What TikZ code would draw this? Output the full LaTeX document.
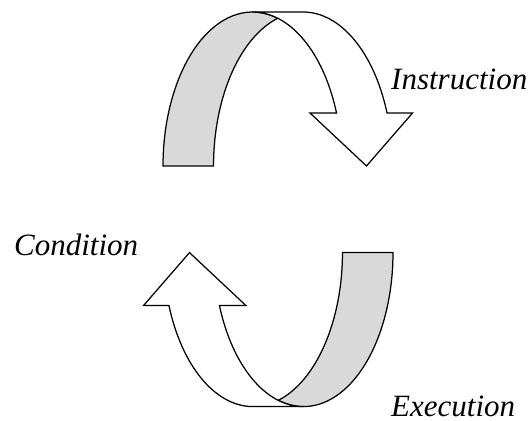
\documentclass[tikz,border=0pt]{standalone}
\usepackage{fontspec}
\setmainfont{Liberation Serif}[ItalicFont={Liberation Serif Italic}]
\usepackage{tikz}
\usetikzlibrary{calc}

\definecolor{ribbongray}{RGB}{217,217,217}

\begin{document}
\begin{tikzpicture}[
			x=1pt, y=1pt,
			ribbon/.style={draw=black, line width=1.25pt, line join=miter},
			label/.style={anchor=base west, inner sep=0pt, font=\fontsize{31}{36}\selectfont\itshape}
			]
			\useasboundingbox (0,0) rectangle (531,421);
			% Ellipse radii and the angle where the shaft ends
			\def\rx{89.5}
			\def\ry{154}
			\def\cut{20.1}
			% Top arrow: shaded tail
			\fill[ribbongray] (163,255) arc[start angle=180, end angle=73.6, x radius=\rx, y radius=\ry]
				arc[start angle=106.4, end angle=180, x radius=\rx, y radius=\ry] -- cycle;
			\draw[ribbon] (163,255) arc[start angle=180, end angle=73.6, x radius=\rx, y radius=\ry]
				arc[start angle=106.4, end angle=180, x radius=\rx, y radius=\ry] -- cycle;
			% Top arrow: head part
			\filldraw[ribbon, fill=white] (252.5,409) -- (303,409)
				arc[start angle=90, end angle=\cut, x radius=\rx, y radius=\ry]
				-- (412.5,308) -- (366.5,255) -- (310,308)
				-- ($(252.5,255)+(\cut:\rx pt and \ry pt)$)
				arc[start angle=\cut, end angle=90, x radius=\rx, y radius=\ry] -- cycle;
			% Bottom arrow: the same shape turned round
			\begin{scope}[rotate around={180:(278,211.7)}]
				\fill[ribbongray] (163,255) arc[start angle=180, end angle=73.6, x radius=\rx, y radius=\ry]
					arc[start angle=106.4, end angle=180, x radius=\rx, y radius=\ry] -- cycle;
				\draw[ribbon] (163,255) arc[start angle=180, end angle=73.6, x radius=\rx, y radius=\ry]
					arc[start angle=106.4, end angle=180, x radius=\rx, y radius=\ry] -- cycle;
				\filldraw[ribbon, fill=white] (252.5,409) -- (303,409)
					arc[start angle=90, end angle=\cut, x radius=\rx, y radius=\ry]
					-- (412.5,308) -- (366.5,255) -- (310,308)
					-- ($(252.5,255)+(\cut:\rx pt and \ry pt)$)
					arc[start angle=\cut, end angle=90, x radius=\rx, y radius=\ry] -- cycle;
			\end{scope}
			% Labels
			\node[label] (instr) at (391,331.7) {Instruction};
			\node[label] (cond) at (14,165.3) {Condition};
			\node[label] (exec) at (391,5) {Execution};
		\end{tikzpicture}
\end{document}
